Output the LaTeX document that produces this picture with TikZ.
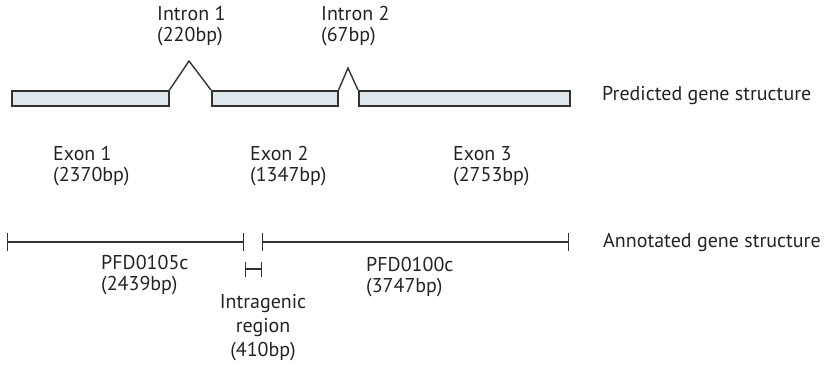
\documentclass[tikz,border=0pt]{standalone}
\usepackage{fontspec}
\setmainfont{PT Sans}
\usetikzlibrary{arrows.meta}
\definecolor{exonfill}{RGB}{222,232,236}
\definecolor{ink}{RGB}{50,50,50}
\definecolor{txt}{RGB}{35,35,35}
\begin{document}
\begin{tikzpicture}[x=1pt,y=-1pt,
  exonbox/.style={draw=ink,fill=exonfill,line width=1.5pt,rectangle,inner sep=0,anchor=north west},
  intronline/.style={draw=ink,line width=1.4pt,line join=miter},
  segline/.style={draw=ink,line width=1.2pt,{Bar[width=18pt]}-{Bar[width=18pt]}},
  gaptick/.style={draw=ink,line width=1.2pt,{Bar[width=15pt]}-{Bar[width=15pt]}},
  lbl/.style={font=\fontsize{20}{20.5}\selectfont,text=txt,inner sep=0,anchor=base west,align=left},
  lblc/.style={font=\fontsize{20}{24}\selectfont,text=txt,inner sep=0,anchor=base,align=center}]
\useasboundingbox (0,0) rectangle (832,365);

% predicted gene structure: three exons joined by introns
\node[exonbox,minimum width=157pt,minimum height=15pt] (ex1) at (11,90) {};
\node[exonbox,minimum width=126pt,minimum height=15pt] (ex2) at (211,90) {};
\node[exonbox,minimum width=211pt,minimum height=15pt] (ex3) at (358,90) {};
\coordinate (peak1) at (189,61);
\coordinate (peak2) at (348,68);
\draw[intronline] (ex1.north east) -- (peak1) -- (ex2.north west);
\draw[intronline] (ex2.north east) -- (peak2) -- (ex3.north west);

% labels: the base anchor sits on the last line's baseline
\node[lbl] (in1) at (157,41) {Intron 1\\(220bp)};
\node[lbl] (in2) at (321,41) {Intron 2\\(67bp)};
\node[lbl] (pred) at (602,100) {Predicted gene structure};

\node[lbl] (lx1) at (53,181) {Exon 1\\(2370bp)};
\node[lbl] (lx2) at (250,181) {Exon 2\\(1347bp)};
\node[lbl] (lx3) at (453,181) {Exon 3\\(2753bp)};

% annotated gene structure: two genes and the region between them
\coordinate (g1a) at (7,242);
\coordinate (g1b) at (244,242);
\coordinate (g2a) at (262,242);
\coordinate (g2b) at (569,242);
\coordinate (ira) at (245,269);
\coordinate (irb) at (262,269);
\draw[segline] (g1a) -- (g1b);
\draw[segline] (g2a) -- (g2b);
\draw[gaptick] (ira) -- (irb);

\node[lbl] (ann) at (603,247) {Annotated gene structure};
\node[lbl] (gn1) at (101,290) {PFD0105c\\(2439bp)};
\node[lbl] (gn2) at (366,292) {PFD0100c\\(3747bp)};
\node[lblc] (ir) at (263,356) {Intragenic\\region\\(410bp)};
\end{tikzpicture}
\end{document}
